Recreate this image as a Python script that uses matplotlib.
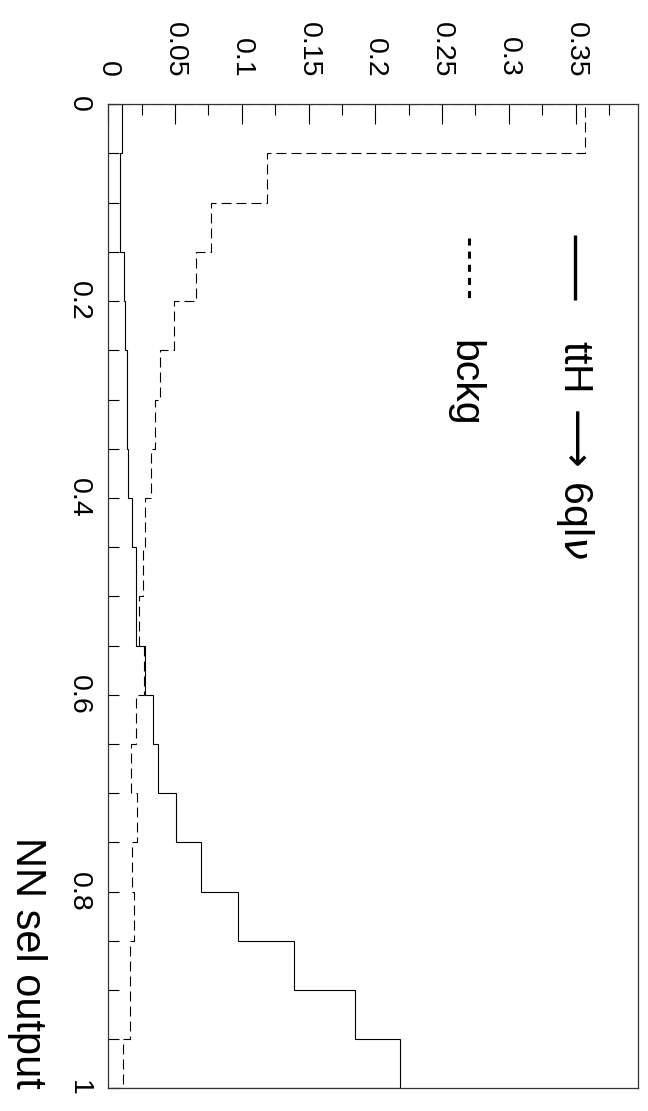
import numpy as np
import matplotlib
matplotlib.use("Agg")
import matplotlib.pyplot as plt
from matplotlib.ticker import FixedLocator, MultipleLocator

plt.rcParams['font.family'] = ['Liberation Sans', 'DejaVu Sans']

# ---- data ----
nn_edges = np.linspace(0.0, 1.0, 21)          # 20 bins of NN output
signal = [0.0103, 0.0085, 0.0085, 0.0117, 0.0124, 0.0138, 0.0138, 0.0151, 0.0178, 0.0210,
          0.0207, 0.0272, 0.0338, 0.0373, 0.0507, 0.0697, 0.0968, 0.1390, 0.1850, 0.2186]
bckg = [0.3570, 0.1190, 0.0771, 0.0654, 0.0493, 0.0384, 0.0352, 0.0317, 0.0272, 0.0258,
        0.0231, 0.0265, 0.0205, 0.0173, 0.0213, 0.0178, 0.0192, 0.0165, 0.0165, 0.0109]
value_ticks = [0, 0.05, 0.1, 0.15, 0.2, 0.25, 0.3, 0.35]
value_labels = ["0", "0.05", "0.1", "0.15", "0.2", "0.25", "0.3", "0.35"]
nn_ticks = [0, 0.2, 0.4, 0.6, 0.8, 1.0]
nn_labels = ["0", "0.2", "0.4", "0.6", "0.8", "1"]
signal_label = r"ttH$\,\longrightarrow\,$6ql$\nu$"
bckg_label = "bckg"
axis_title = "NN sel output"

W, H = 648, 1111
fig = plt.figure(figsize=(W / 100, H / 100), dpi=100)
ax = fig.add_axes([108.3 / W, 1 - 1088.3 / H, (638.3 - 108.3) / W, (1088.3 - 104.3) / H])

lw = 0.8
ax.stairs(signal, nn_edges, orientation='horizontal', baseline=0, color='black', lw=lw)
ax.stairs(bckg, nn_edges, orientation='horizontal', baseline=0, color='black', lw=lw,
          linestyle=(0, (9, 4.5)))

ax.set_xlim(0, 0.397)
ax.set_ylim(1.0, 0.0)

for s in ax.spines.values():
    s.set_linewidth(0.9)
    s.set_color('#333333')

# value axis on top
ax.xaxis.tick_top()
ax.xaxis.set_major_locator(FixedLocator(value_ticks))
ax.set_xticklabels(value_labels)
ax.xaxis.set_minor_locator(MultipleLocator(0.025))
ax.tick_params(axis='x', which='major', direction='in', length=14.4, width=0.8,
               labelsize=20.5, pad=19.5, labelrotation=270, top=True, bottom=False)
ax.tick_params(axis='x', which='minor', direction='in', length=8, width=0.8,
               top=True, bottom=False)

# NN output axis on the left
ax.yaxis.set_major_locator(FixedLocator(nn_ticks))
ax.set_yticklabels(nn_labels)
ax.yaxis.set_minor_locator(MultipleLocator(0.05))
ax.tick_params(axis='y', which='major', direction='in', length=8, width=0.8,
               labelsize=20.5, pad=11.5, labelrotation=270, left=True, right=False)
ax.tick_params(axis='y', which='minor', direction='in', length=8, width=0.8,
               left=True, right=False)
for t in ax.get_yticklabels():
    t.set_va('center')
    t.set_ha('right')

lab = ax.set_ylabel(axis_title, fontsize=30, rotation=270)
ax.yaxis.set_label_coords(-0.153, 0.0)
lab.set_rotation_mode('default')
lab.set_ha('center')
lab.set_va('bottom')

# legend drawn in the rotated orientation
ax.plot([0.881, 0.881], [0.867, 0.801], transform=ax.transAxes, color='black', lw=2.4,
        solid_capstyle='butt')
ax.plot([0.681, 0.681], [0.864, 0.801], transform=ax.transAxes, color='black', lw=2.2,
        linestyle=(0, (2.3, 2.0)))
ax.text(0.880, 0.760, signal_label, transform=ax.transAxes, rotation=270, fontsize=29.5,
        ha='center', va='top')
ax.text(0.672, 0.760, bckg_label, transform=ax.transAxes, rotation=270, fontsize=29.5,
        ha='center', va='top')

fig.savefig("out.png", dpi=100, facecolor='white')
